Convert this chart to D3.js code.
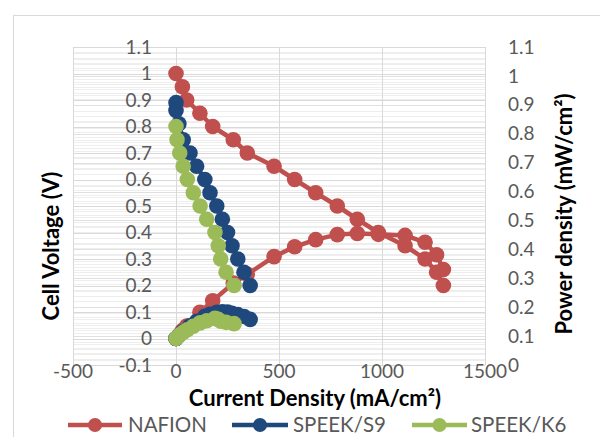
<!DOCTYPE html>
<html><head><meta charset="utf-8">
<script src="https://cdn.jsdelivr.net/npm/d3@7"></script>
<style>
body{margin:0;background:#fff}
svg{display:block;font-family:Lato,'Open Sans',sans-serif}
</style>
</head><body>
<svg id="chart" width="600" height="437"></svg>
<script>
// ---- data ----
const seriesNames = ["NAFION", "SPEEK/S9", "SPEEK/K6"];
const seriesColors = ["#C0504D", "#1F497D", "#9BBB59"];

const nafionCurrent = [0, 31, 52, 116, 178, 278, 346, 476, 576, 678, 783, 880, 982, 1112, 1209, 1265, 1298];
const nafionVoltage = [1.0, 0.95, 0.9, 0.85, 0.8, 0.75, 0.7, 0.65, 0.6, 0.55, 0.5, 0.45, 0.4, 0.35, 0.3, 0.25, 0.2];
const nafionPower   = [0, 0.03, 0.047, 0.099, 0.142, 0.209, 0.242, 0.309, 0.346, 0.373, 0.392, 0.396, 0.393, 0.389, 0.363, 0.316, 0.26];

const s9Current = [0, 0, 14, 35, 68, 100, 140, 165, 198, 225, 250, 272, 300, 330, 360];
const s9Voltage = [0.89, 0.86, 0.81, 0.75, 0.7, 0.65, 0.6, 0.55, 0.5, 0.45, 0.4, 0.35, 0.3, 0.25, 0.2];
const s9Power   = [0, 0, 0.011, 0.026, 0.048, 0.065, 0.084, 0.091, 0.099, 0.101, 0.1, 0.095, 0.09, 0.083, 0.072];

const k6Current = [0, 5, 18, 35, 55, 84, 117, 149, 189, 205, 217, 243, 282];
const k6Voltage = [0.8, 0.75, 0.7, 0.65, 0.6, 0.55, 0.5, 0.45, 0.4, 0.35, 0.3, 0.25, 0.2];
const k6Power   = [0, 0.004, 0.013, 0.023, 0.033, 0.046, 0.059, 0.067, 0.076, 0.072, 0.065, 0.061, 0.056];

const xTickValues = [-500, 0, 500, 1000, 1500];
const leftTickValues = [-0.1, 0, 0.1, 0.2, 0.3, 0.4, 0.5, 0.6, 0.7, 0.8, 0.9, 1.0, 1.1];
const rightTickValues = [0, 0.1, 0.2, 0.3, 0.4, 0.5, 0.6, 0.7, 0.8, 0.9, 1.0, 1.1];

const xTitle = "Current Density (mA/cm²)";
const leftTitle = "Cell Voltage (V)";
const rightTitle = "Power density (mW/cm²)";

// ---- layout ----
const svg = d3.select("#chart");
const L = 73, R = 485, T = 47, B = 365;
const x = d3.scaleLinear().domain([-500, 1500]).range([L, R]);
const yL = d3.scaleLinear().domain([-0.1, 1.1]).range([B, T]);
const yR = d3.scaleLinear().domain([0, 1.1]).range([B, T]);
const fmt = v => String(+v.toFixed(2));

// chart area border
svg.append("rect").attr("x", 13.5).attr("y", 15.5).attr("width", 620).attr("height", 460)
  .attr("fill", "none").attr("stroke", "#d9d9d9");

// gridlines
const grid = svg.append("g");
const minorL = d3.range(-0.1, 1.1001, 0.02);
const minorR = d3.range(0, 1.1001, 0.02);
grid.selectAll(".mnl").data(minorL).join("line")
  .attr("x1", L).attr("x2", R).attr("y1", d => Math.round(yL(d)) + 0.5).attr("y2", d => Math.round(yL(d)) + 0.5)
  .attr("stroke", "#eeeeee");
grid.selectAll(".mnr").data(minorR).join("line")
  .attr("x1", L).attr("x2", R).attr("y1", d => Math.round(yR(d)) + 0.5).attr("y2", d => Math.round(yR(d)) + 0.5)
  .attr("stroke", "#eeeeee");
grid.selectAll(".mjr").data(rightTickValues).join("line")
  .attr("x1", L).attr("x2", R).attr("y1", d => Math.round(yR(d)) + 0.5).attr("y2", d => Math.round(yR(d)) + 0.5)
  .attr("stroke", "#e0e0e0");
grid.selectAll(".mjl").data(leftTickValues).join("line")
  .attr("x1", L).attr("x2", R).attr("y1", d => Math.round(yL(d)) + 0.5).attr("y2", d => Math.round(yL(d)) + 0.5)
  .attr("stroke", "#d9d9d9");
grid.selectAll(".vx").data(xTickValues).join("line")
  .attr("x1", d => Math.round(x(d)) + 0.5).attr("x2", d => Math.round(x(d)) + 0.5).attr("y1", T).attr("y2", B)
  .attr("stroke", "#d9d9d9");

// axes labels
const tickColor = "#595959";
const tickSize = 19;
svg.append("g").selectAll("text").data(xTickValues).join("text")
  .attr("x", d => x(d)).attr("y", 378).attr("text-anchor", "middle")
  .attr("font-size", tickSize).attr("fill", tickColor).text(d => d);
svg.append("g").selectAll("text").data(leftTickValues).join("text")
  .attr("x", 152).attr("y", d => yL(d)).attr("dy", "0.35em").attr("text-anchor", "end")
  .attr("font-size", tickSize).attr("fill", tickColor).text(fmt);
svg.append("g").selectAll("text").data(rightTickValues).join("text")
  .attr("x", 508).attr("y", d => yR(d)).attr("dy", "0.35em").attr("text-anchor", "start")
  .attr("font-size", tickSize).attr("fill", tickColor).text(fmt);

// titles
svg.append("text").attr("x", 315).attr("y", 406).attr("text-anchor", "middle")
  .attr("font-size", 22).attr("font-weight", "bold").attr("fill", "#000").text(xTitle);
svg.append("text").attr("transform", "translate(59,246) rotate(-90)").attr("text-anchor", "middle")
  .attr("font-size", 22).attr("font-weight", "bold").attr("fill", "#000").text(leftTitle);
svg.append("text").attr("transform", "translate(572,214) rotate(-90)").attr("text-anchor", "middle")
  .attr("font-size", 22).attr("font-weight", "bold").attr("fill", "#000").text(rightTitle);

// series
const series = [
  {name: seriesNames[0], color: seriesColors[0], cur: nafionCurrent, v: nafionVoltage, p: nafionPower},
  {name: seriesNames[1], color: seriesColors[1], cur: s9Current, v: s9Voltage, p: s9Power},
  {name: seriesNames[2], color: seriesColors[2], cur: k6Current, v: k6Voltage, p: k6Power}
];
const line = d3.line().x(d => x(d[0])).y(d => yL(d[1]));
const plot = svg.append("g");
series.forEach(s => {
  [s.p, s.v].forEach(vals => {
    const pts = s.cur.map((c, i) => [c, vals[i]]);
    plot.append("path").datum(pts).attr("d", line).attr("fill", "none")
      .attr("stroke", s.color).attr("stroke-width", 4.5).attr("stroke-linejoin", "round");
    plot.append("g").selectAll("circle").data(pts).join("circle")
      .attr("cx", d => x(d[0])).attr("cy", d => yL(d[1])).attr("r", 7.8).attr("fill", s.color);
  });
});

// legend
const legendItems = [
  {x1: 68, x2: 122, tx: 128},
  {x1: 232, x2: 288, tx: 293},
  {x1: 412, x2: 467, tx: 471}
];
const lg = svg.append("g");
series.forEach((s, i) => {
  const it = legendItems[i];
  lg.append("line").attr("x1", it.x1).attr("x2", it.x2).attr("y1", 425).attr("y2", 425)
    .attr("stroke", s.color).attr("stroke-width", 4.5);
  lg.append("circle").attr("cx", (it.x1 + it.x2) / 2).attr("cy", 425).attr("r", 7).attr("fill", s.color);
  lg.append("text").attr("x", it.tx).attr("y", 425).attr("dy", "0.35em")
    .attr("font-size", 20.5).attr("fill", tickColor).text(s.name);
});
</script>
</body></html>
